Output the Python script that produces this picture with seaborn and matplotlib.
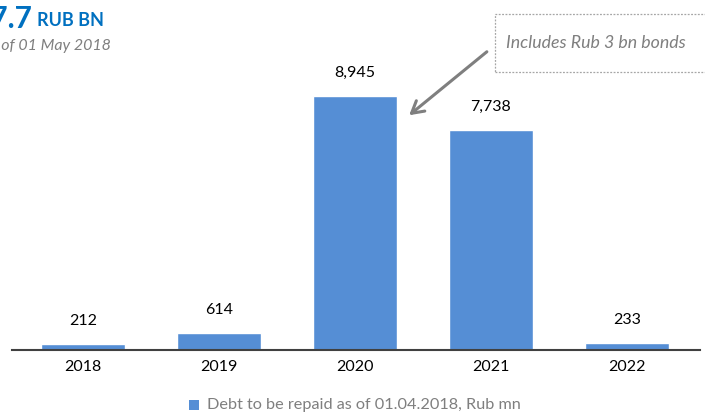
import matplotlib
matplotlib.use("Agg")
import matplotlib.pyplot as plt
import seaborn as sns
import pandas as pd
from matplotlib.patches import Rectangle

years = ["2018", "2019", "2020", "2021", "2022"]
debt = [212, 614, 8945, 7738, 233]
value_labels = ["212", "614", "8,945", "7,738", "233"]
series_name = "Debt to be repaid as of 01.04.2018, Rub mn"
title_value = "17.7"
title_unit = "RUB BN"
subtitle = "As of 01 May 2018"
note = "Includes Rub 3 bn bonds"

sns.set_theme(style="white")
plt.rcParams["font.family"] = ["Lato", "DejaVu Sans"]

W, H = 705, 417
fig = plt.figure(figsize=(W / 100, H / 100), dpi=100)
ax = fig.add_axes([12 / W, (H - 350) / H, 688 / W, 330 / H])

df = pd.DataFrame({"year": years, "debt": debt})
bar_color = "#558ED5"
sns.barplot(data=df, x="year", y="debt", color=bar_color, saturation=1,
            width=0.62, ax=ax, order=years)

ax.set_xlim(-0.522, 4.537)
ax.set_ylim(0, 11620)
ax.set_xlabel("")
ax.set_ylabel("")
ax.set_yticks([])
for s in ["top", "right", "left"]:
    ax.spines[s].set_visible(False)
ax.spines["bottom"].set_color("#404040")
ax.spines["bottom"].set_linewidth(1.5)
ax.tick_params(axis="x", length=0, pad=7, labelsize=11.5, labelcolor="#000000")

for i, (v, lab) in enumerate(zip(debt, value_labels)):
    ax.annotate(lab, (i, v), xytext=(0, 16.5), textcoords="offset points",
                ha="center", va="center", fontsize=11.5, color="#000000")

# Title (partially cropped on the left like the reference)
fig.text(32 / W, 1 - 19 / H, title_value, ha="right", va="center",
         fontsize=21.5, fontweight="bold", color="#0070C0")
fig.text(37 / W, 1 - 20 / H, title_unit, ha="left", va="center",
         fontsize=13, fontweight="bold", color="#0070C0")
fig.text(111 / W, 1 - 46 / H, subtitle, ha="right", va="center",
         fontsize=11.5, style="italic", color="#7F7F7F")

# Note box
box = Rectangle((495 / W, 1 - 72 / H), 215 / W, 58 / H, transform=fig.transFigure,
                fill=False, edgecolor="#A6A6A6", linestyle=(0, (1.5, 1.2)), linewidth=0.9)
fig.patches.append(box)
fig.text(596 / W, 1 - 43 / H, note, ha="center", va="center",
         fontsize=12.8, style="italic", color="#7F7F7F")

# Arrow pointing to 2020 bar
ax.annotate("", xy=(407 / W, 1 - 117 / H), xycoords="figure fraction",
            xytext=(489 / W, 1 - 50 / H), textcoords="figure fraction",
            arrowprops=dict(arrowstyle="->,head_length=0.7,head_width=0.4",
                            color="#7F7F7F", lw=2.2))

# Legend
fig.patches.append(Rectangle((189 / W, 1 - 410 / H), 10 / W, 10 / H,
                             transform=fig.transFigure, facecolor=bar_color,
                             edgecolor="none"))
fig.text(207 / W, 1 - 405 / H, series_name, ha="left", va="center",
         fontsize=11.7, color="#7F7F7F")

fig.savefig("out.png", dpi=100)
